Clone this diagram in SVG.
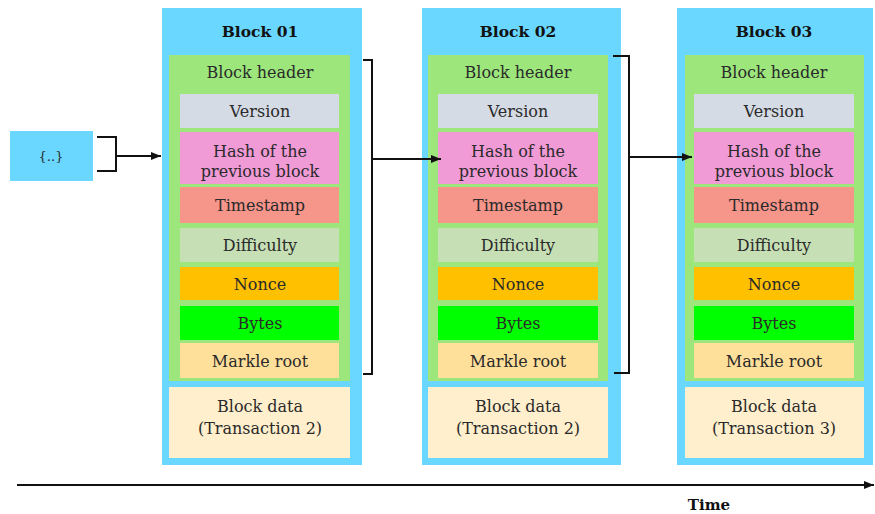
<svg xmlns="http://www.w3.org/2000/svg" width="875" height="514" viewBox="0 0 875 514">
<defs>
<marker id="ah" viewBox="0 0 10 10" refX="10" refY="5" markerWidth="10" markerHeight="10" markerUnits="userSpaceOnUse" orient="auto"><path d="M0,1 L10,5 L0,9 z" fill="#111"/></marker>
</defs>
<style>
text{font-family:"DejaVu Serif","Liberation Serif",serif;font-size:16px;fill:#2a2a2a;text-anchor:middle}
.t{font-weight:bold;font-size:15.5px;fill:#111}
.blue{fill:#69D7FF}
.hdr{fill:#9DE67B}
.ver{fill:#D5DBE5}
.hash{fill:#F09AD6}
.ts{fill:#F6958A}
.dif{fill:#C6DFB5}
.non{fill:#FFC000}
.byt{fill:#00FF00}
.mk{fill:#FFE09B}
.bd{fill:#FFEFCD}
.ln{fill:none;stroke:#111;stroke-width:2}
</style>
<rect width="875" height="514" fill="#fff"/>
<g id="start">
<rect class="blue" x="10" y="131" width="83" height="50"/>
<text x="51" y="161" style="font-size:13px">{..}</text>
</g>
<g id="block01">
<rect class="blue" x="162" y="8" width="200" height="457"/>
<text class="t" x="260" y="37">Block 01</text>
<rect class="hdr" x="169" y="55" width="181" height="326"/>
<text x="260" y="78">Block header</text>
<rect class="ver" x="180" y="94" width="159" height="34"/><text x="260" y="117">Version</text>
<rect class="hash" x="180" y="132" width="159" height="52"/><text x="260" y="157">Hash of the</text><text x="260" y="177">previous block</text>
<rect class="ts" x="180" y="187" width="159" height="36"/><text x="260" y="211">Timestamp</text>
<rect class="dif" x="180" y="228" width="159" height="34"/><text x="260" y="251">Difficulty</text>
<rect class="non" x="180" y="267" width="159" height="33"/><text x="260" y="290">Nonce</text>
<rect class="byt" x="180" y="306" width="159" height="34"/><text x="260" y="329">Bytes</text>
<rect class="mk" x="180" y="343" width="159" height="35"/><text x="260" y="367">Markle root</text>
<rect class="bd" x="169" y="387" width="181" height="71"/>
<text x="260" y="412">Block data</text><text x="260" y="434">(Transaction 2)</text>
</g>
<g id="block02">
<rect class="blue" x="422" y="8" width="199" height="457"/>
<text class="t" x="518" y="37">Block 02</text>
<rect class="hdr" x="428" y="55" width="180" height="326"/>
<text x="518" y="78">Block header</text>
<rect class="ver" x="438" y="94" width="160" height="34"/><text x="518" y="117">Version</text>
<rect class="hash" x="438" y="132" width="160" height="52"/><text x="518" y="157">Hash of the</text><text x="518" y="177">previous block</text>
<rect class="ts" x="438" y="187" width="160" height="36"/><text x="518" y="211">Timestamp</text>
<rect class="dif" x="438" y="228" width="160" height="34"/><text x="518" y="251">Difficulty</text>
<rect class="non" x="438" y="267" width="160" height="33"/><text x="518" y="290">Nonce</text>
<rect class="byt" x="438" y="306" width="160" height="34"/><text x="518" y="329">Bytes</text>
<rect class="mk" x="438" y="343" width="160" height="35"/><text x="518" y="367">Markle root</text>
<rect class="bd" x="428" y="387" width="180" height="71"/>
<text x="518" y="412">Block data</text><text x="518" y="434">(Transaction 2)</text>
</g>
<g id="block03">
<rect class="blue" x="677" y="8" width="196" height="457"/>
<text class="t" x="774" y="37">Block 03</text>
<rect class="hdr" x="685" y="55" width="179" height="326"/>
<text x="774" y="78">Block header</text>
<rect class="ver" x="694" y="94" width="160" height="34"/><text x="774" y="117">Version</text>
<rect class="hash" x="694" y="132" width="160" height="52"/><text x="774" y="157">Hash of the</text><text x="774" y="177">previous block</text>
<rect class="ts" x="694" y="187" width="160" height="36"/><text x="774" y="211">Timestamp</text>
<rect class="dif" x="694" y="228" width="160" height="34"/><text x="774" y="251">Difficulty</text>
<rect class="non" x="694" y="267" width="160" height="33"/><text x="774" y="290">Nonce</text>
<rect class="byt" x="694" y="306" width="160" height="34"/><text x="774" y="329">Bytes</text>
<rect class="mk" x="694" y="343" width="160" height="35"/><text x="774" y="367">Markle root</text>
<rect class="bd" x="685" y="387" width="179" height="71"/>
<text x="774" y="412">Block data</text><text x="774" y="434">(Transaction 3)</text>
</g>
<g id="connectors">
<path class="ln" d="M97,137 H116 V171 H97"/>
<path class="ln" d="M116,156 H161" marker-end="url(#ah)"/>
<path class="ln" d="M363,60 H372 V374 H363"/>
<path class="ln" d="M372,159 H441" marker-end="url(#ah)"/>
<path class="ln" d="M613,56 H629 V373 H614"/>
<path class="ln" d="M629,157 H692" marker-end="url(#ah)"/>
<path class="ln" d="M17,485 H874" marker-end="url(#ah)"/>
</g>
<text class="t" x="709" y="510" style="font-size:15px">Time</text>
</svg>
